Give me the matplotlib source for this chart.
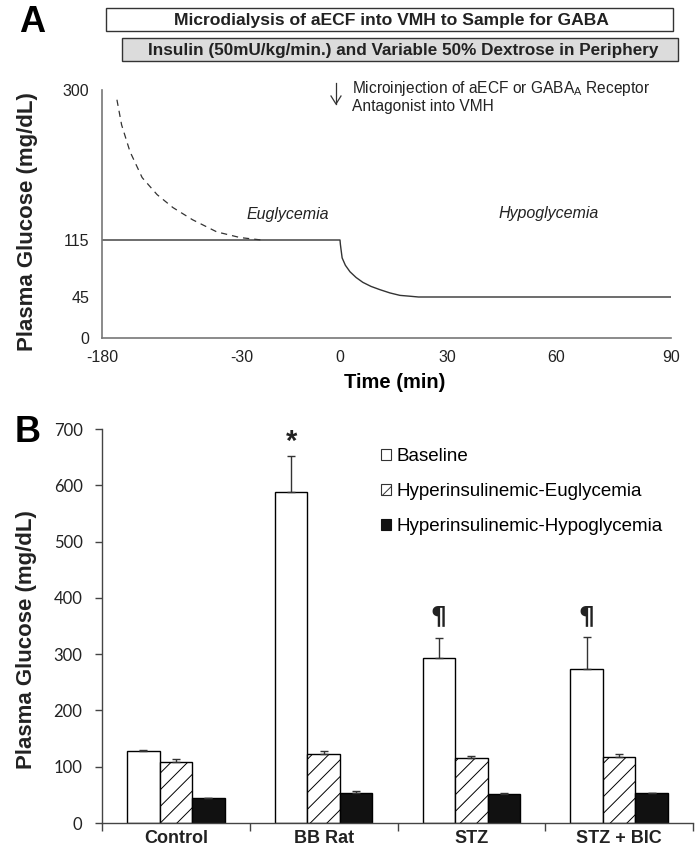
import numpy as np
import matplotlib
matplotlib.use("Agg")
import matplotlib.pyplot as plt
from matplotlib.patches import Rectangle, Patch

plt.rcParams['font.family'] = ['Liberation Sans', 'DejaVu Sans']
plt.rcParams['hatch.linewidth'] = 0.7

W, H = 695, 851

# ---- panel A: schematic protocol ----
time_ticks = [-180, -30, 0, 30, 60, 90]
time_px = [102, 242, 340, 447, 556, 671]     # schematic (non-linear) time axis
glu_ticks = [0, 45, 115, 300]
glu_px = [338, 297, 240, 90]

# solid line: clamp at euglycemia then drop to hypoglycemia
clamp_t = [-180, 0, 0.1, 0.3, 0.6, 1.5, 2.8, 4.5, 6.4, 8.7, 11.2, 14.0, 16.8, 19.5, 22.0, 90]
clamp_g = [115, 115, 110, 103, 93, 84, 76, 69, 63, 58, 54, 50, 47, 46, 45, 45]
# dashed line: diabetic baseline falling to euglycemia
pre_t = [-164, -159, -150, -137, -121, -104, -83, -57, -32, -24]
pre_g = [288, 257, 224, 192, 171, 155, 140, 125, 118, 115]

# ---- panel B: plasma glucose bars ----
groups = ['Control', 'BB Rat', 'STZ', 'STZ + BIC']
series = ['Baseline', 'Hyperinsulinemic-Euglycemia', 'Hyperinsulinemic-Hypoglycemia']
baseline = [128, 588, 293, 274]
baseline_err = [1, 64, 35, 56]
eugly = [108, 122, 115, 118]
eugly_err = [5, 6, 4, 4]
hypo = [44, 54, 52, 53]
hypo_err = [1, 2, 1, 1]


def fx(px):
    return px / W


def fy(py):
    return 1 - py / H


fig = plt.figure(figsize=(W / 100, H / 100), dpi=100)

# ================= Panel A =================
axA = fig.add_axes([fx(102), fy(338), fx(671) - fx(102), fy(90) - fy(338)])
tpos = [p - time_px[0] for p in time_px]
gpos = [glu_px[0] - p for p in glu_px]
axA.set_xscale('function', functions=(lambda v: np.interp(v, time_ticks, tpos),
                                      lambda v: np.interp(v, tpos, time_ticks)))
axA.set_yscale('function', functions=(lambda v: np.interp(v, glu_ticks, gpos),
                                      lambda v: np.interp(v, gpos, glu_ticks)))
axA.plot(clamp_t, clamp_g, color='#333333', lw=1.0)
axA.plot(pre_t, pre_g, color='#333333', lw=0.9, dashes=(5, 4))
axA.set_xlim(-180, 90)
axA.set_ylim(0, 300)
axA.set_xticks(time_ticks)
axA.set_xticklabels([str(t) for t in time_ticks])
axA.set_yticks(glu_ticks)
axA.set_yticklabels([str(g) for g in glu_ticks])
axA.set_yticks([300], minor=True)
axA.tick_params(axis='both', which='major', length=0, labelsize=11.5, colors='#222222')
axA.tick_params(axis='x', which='major', pad=9)
axA.tick_params(axis='y', which='major', pad=9)
axA.tick_params(axis='y', which='minor', direction='in', length=8, width=1.2, color='#777777')
for s in ['top', 'right']:
    axA.spines[s].set_visible(False)
for s in ['left', 'bottom']:
    axA.spines[s].set_color('#777777')
    axA.spines[s].set_linewidth(1.2)
axA.set_xlabel('Time (min)', fontsize=14.5, fontweight='bold', labelpad=5)
axA.xaxis.set_label_coords(fx(395 - 102) / (fx(671) - fx(102)), -0.14)

axA.text(-16, 146, 'Euglycemia', fontsize=11.5, style='italic', ha='center', va='center',
         color='#222222')
axA.text(58, 148, 'Hypoglycemia', fontsize=11.5, style='italic', ha='center', va='center',
         color='#222222')

# top bars of the protocol
fig.patches.append(Rectangle((fx(106), fy(31)), fx(673) - fx(106), fy(8) - fy(31),
                             transform=fig.transFigure, facecolor='white',
                             edgecolor='#333333', lw=1.0))
fig.patches.append(Rectangle((fx(122), fy(61)), fx(678) - fx(122), fy(38) - fy(61),
                             transform=fig.transFigure, facecolor='#dcdcdc',
                             edgecolor='#333333', lw=1.0))
fig.text(fx(391), fy(20), 'Microdialysis of aECF into VMH to Sample for GABA',
         fontsize=12.6, fontweight='bold', ha='center', va='center', color='#222222')
fig.text(fx(403), fy(50), 'Insulin (50mU/kg/min.) and Variable 50% Dextrose in Periphery',
         fontsize=12.3, fontweight='bold', ha='center', va='center', color='#222222')

# arrow for microinjection
fig.add_artist(plt.Line2D([fx(336), fx(336)], [fy(83), fy(104)], color='#333333', lw=0.9))
fig.add_artist(plt.Line2D([fx(331), fx(336), fx(341)], [fy(96), fy(104), fy(96)],
                          color='#333333', lw=0.9))
fig.text(fx(352), fy(89), 'Microinjection of aECF or GABA$_\\mathregular{A}$ Receptor',
         fontsize=11.2, ha='left', va='center', color='#222222')
fig.text(fx(352), fy(107), 'Antagonist into VMH', fontsize=11.2, ha='left', va='center',
         color='#222222')

fig.text(fx(28), fy(222), 'Plasma Glucose (mg/dL)', rotation=90, fontsize=16,
         fontweight='bold', ha='center', va='center', color='#222222')
fig.text(fx(32), fy(22), 'A', fontsize=26, fontweight='bold', ha='center', va='center')

# ================= Panel B =================
axB = fig.add_axes([fx(102), fy(823), fx(693) - fx(102), fy(429) - fy(823)])
x = np.arange(len(groups))
bw = 0.22
err_kw = dict(ecolor='#333333', elinewidth=1.0, capsize=3, capthick=1.0)
axB.bar(x - bw, baseline, bw, yerr=[np.zeros(4), baseline_err], facecolor='white',
        edgecolor='black', lw=1.0, error_kw=err_kw, label=series[0])
axB.bar(x, eugly, bw, yerr=[np.zeros(4), eugly_err], facecolor='white', edgecolor='black',
        hatch='//', lw=1.0, error_kw=err_kw, label=series[1])
axB.bar(x + bw, hypo, bw, yerr=[np.zeros(4), hypo_err], facecolor='#111111',
        edgecolor='black', lw=1.0, error_kw=err_kw, label=series[2])

axB.set_xlim(-0.5, 3.5)
axB.set_ylim(0, 700)
axB.set_yticks(np.arange(0, 701, 100))
axB.set_xticks(x)
axB.set_xticklabels(groups, fontsize=13, fontweight='bold')
axB.set_xticks(np.arange(-0.5, 3.6, 1), minor=True)
axB.tick_params(axis='x', which='major', length=0, pad=5, colors='#222222')
axB.tick_params(axis='x', which='minor', length=6, width=1.0, color='#444444')
axB.tick_params(axis='y', length=5, width=1.0, color='#444444', pad=9, colors='#222222')
for lab in axB.get_yticklabels():
    lab.set_family(['Lato', 'DejaVu Sans'])
    lab.set_fontsize(12)
for s in ['top', 'right']:
    axB.spines[s].set_visible(False)
for s in ['left', 'bottom']:
    axB.spines[s].set_color('#444444')
    axB.spines[s].set_linewidth(1.0)

axB.text(1 - bw, 677, '*', fontsize=21, fontweight='bold', ha='center', va='center',
         color='#222222')
for i in [2, 3]:
    axB.text(i - bw, 367, '¶', fontsize=18, fontweight='bold', ha='center', va='center',
             color='#222222', family=['DejaVu Sans'])

handles = [Patch(facecolor='white', edgecolor='#333333', lw=0.8),
           Patch(facecolor='white', edgecolor='#333333', hatch='///', lw=0.8),
           Patch(facecolor='#111111', edgecolor='#111111', lw=0.8)]
axB.legend(handles, series, loc='upper left', bbox_to_anchor=(fx(381), fy(448)),
           bbox_transform=fig.transFigure, frameon=False, fontsize=13.5,
           handlelength=0.55, handleheight=0.55, handletextpad=0.3,
           labelspacing=0.97, borderpad=0, borderaxespad=0)

fig.text(fx(27), fy(640), 'Plasma Glucose (mg/dL)', rotation=90, fontsize=16,
         fontweight='bold', ha='center', va='center', color='#222222')
fig.text(fx(28), fy(432), 'B', fontsize=26, fontweight='bold', ha='center', va='center')

fig.savefig('out.png', dpi=100)
